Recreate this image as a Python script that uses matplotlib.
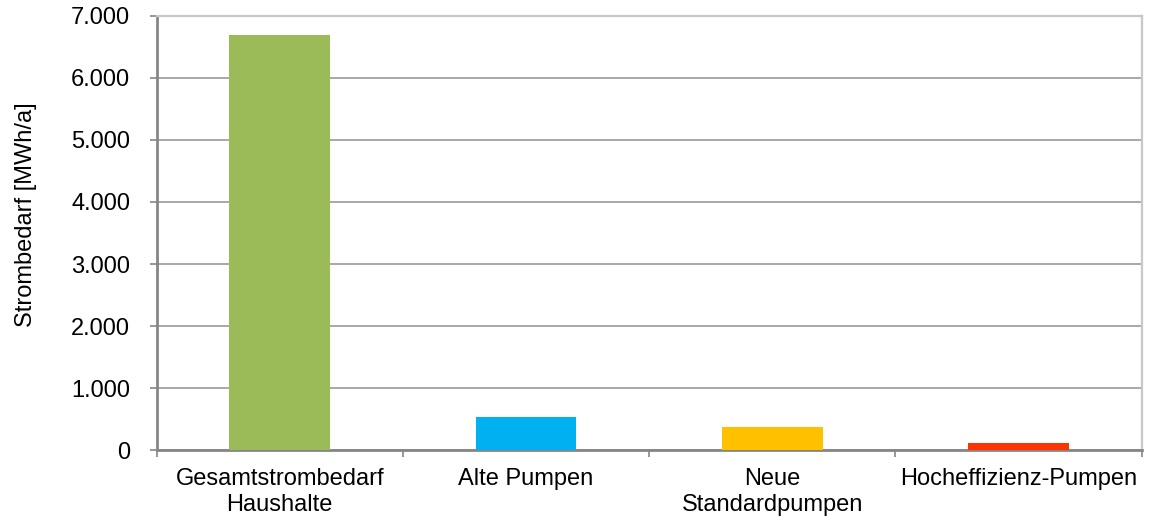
import matplotlib
matplotlib.use("Agg")
import matplotlib.pyplot as plt
from matplotlib.ticker import FuncFormatter, FixedLocator

categories = ["Gesamtstrombedarf\nHaushalte", "Alte Pumpen", "Neue\nStandardpumpen", "Hocheffizienz-Pumpen"]
values = [6690, 535, 375, 118]
colors = ["#9BBB59", "#00B0F0", "#FFC000", "#FF3300"]
y_ticks = [0, 1000, 2000, 3000, 4000, 5000, 6000, 7000]
y_label = "Strombedarf [MWh/a]"

plt.rcParams["font.family"] = ["Liberation Sans", "DejaVu Sans"]

fig = plt.figure(figsize=(11.51, 5.23), dpi=100)
ax = fig.add_axes([0.1361, 0.139, 0.8557, 0.831])

x = list(range(len(categories)))
ax.bar(x, values, width=0.41, color=colors, zorder=3)

ax.set_xlim(-0.5, len(categories) - 0.5)
ax.set_ylim(y_ticks[0], y_ticks[-1])

# horizontal gridlines
ax.set_yticks(y_ticks)
ax.yaxis.grid(True, color="#999999", linewidth=1.2, zorder=1)
ax.set_axisbelow(True)
ax.yaxis.set_major_formatter(FuncFormatter(lambda v, p: f"{int(v):,}".replace(",", ".")))
ax.tick_params(axis="y", direction="out", length=5, width=1.2, color="#868686",
               labelsize=17, pad=14, labelcolor="#000000")

# category boundaries as ticks, labels at category centres
ax.xaxis.set_major_locator(FixedLocator([i - 0.5 for i in range(len(categories) + 1)]))
ax.xaxis.set_major_formatter(FuncFormatter(lambda v, p: ""))
ax.xaxis.set_minor_locator(FixedLocator(x))
ax.set_xticklabels(categories, minor=True)
ax.tick_params(axis="x", which="major", direction="out", length=5, width=1.2, color="#868686")
ax.tick_params(axis="x", which="minor", length=0, labelsize=17, pad=13, labelcolor="#000000")
for lbl in ax.get_xticklabels(minor=True):
    lbl.set_linespacing(1.2)

for side in ("left", "bottom"):
    ax.spines[side].set_color("#868686")
    ax.spines[side].set_linewidth(2.0)
for side in ("top", "right"):
    ax.spines[side].set_color("#C8C8C8")
    ax.spines[side].set_linewidth(1.6)

ax.set_ylabel(y_label, fontsize=17)
ax.yaxis.set_label_coords(-0.1215, 0.541)

fig.savefig("out.png", dpi=100)
